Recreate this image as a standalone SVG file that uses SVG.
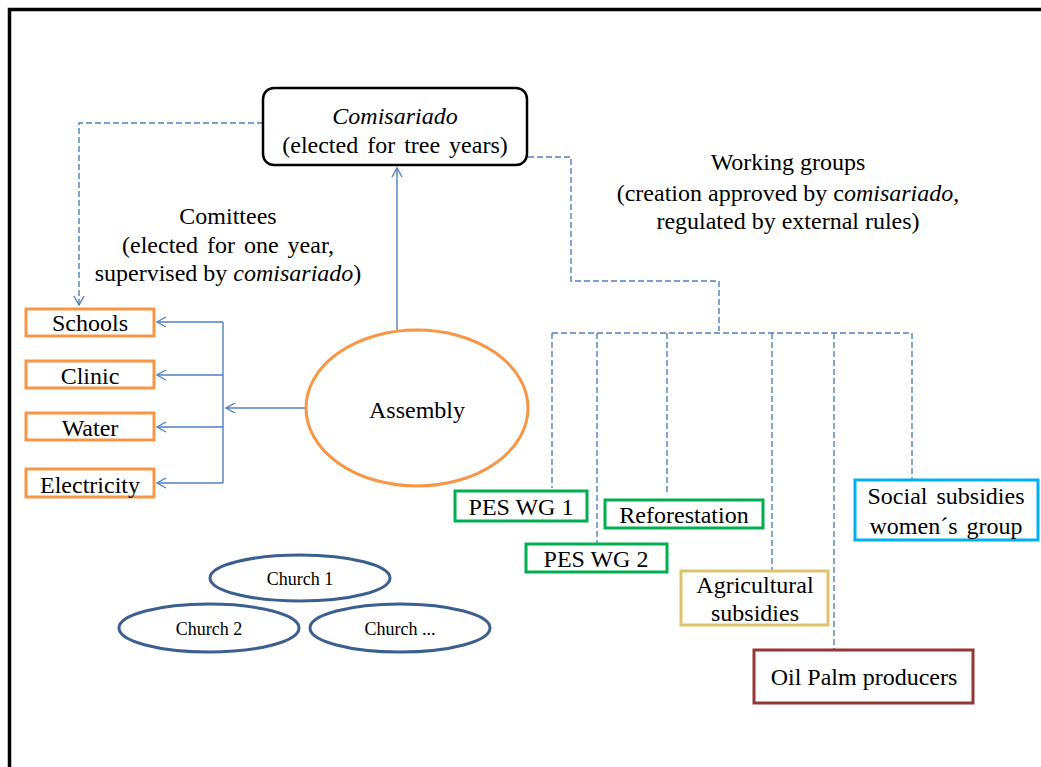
<svg xmlns="http://www.w3.org/2000/svg" width="1041" height="767" viewBox="0 0 1041 767" font-family="'Liberation Serif', 'Times New Roman', serif">
<style>
text{font-family:"Liberation Serif","Times New Roman",serif;fill:#000;text-anchor:middle}
.t{font-size:24px}
.s{font-size:18px}
.or{fill:#fff;stroke:#f79646;stroke-width:3}
.gr{fill:#fff;stroke:#00b050;stroke-width:3}
.ch{fill:#fff;stroke:#3b5f8f;stroke-width:3}
.c{fill:none;stroke:#4f81bd;stroke-width:1.4}
.d{fill:none;stroke:#4f81bd;stroke-width:1.4;stroke-dasharray:6 3}
</style>
<defs>
<marker id="arr" viewBox="0 0 11 12" refX="10" refY="6" markerWidth="11" markerHeight="12" markerUnits="userSpaceOnUse" orient="auto">
<path d="M1,1 L10,6 L1,11" fill="none" stroke="#4f81bd" stroke-width="1.4"/>
</marker>
</defs>
<rect width="1041" height="767" fill="#fff"/>
<path d="M9.5,767 V9.5 H1041" fill="none" stroke="#000" stroke-width="3.5"/>
<g id="connectors">
<path class="d" d="M263,123 H79 V305" marker-end="url(#arr)"/>
<path class="d" d="M528,157 H571 V281 H719 V331"/>
<path class="d" d="M552,333 H912"/>
<path class="d" d="M552,333 V488"/>
<path class="d" d="M597,333 V543"/>
<path class="d" d="M667,333 V494"/>
<path class="d" d="M772,333 V570"/>
<path class="d" d="M834,333 V649"/>
<path class="d" d="M912,333 V479"/>
<path class="c" d="M397,331 V168" marker-end="url(#arr)"/>
<path class="c" d="M306,408 H226" marker-end="url(#arr)"/>
<path class="c" d="M223,322 V483"/>
<path class="c" d="M223,322 H157" marker-end="url(#arr)"/>
<path class="c" d="M223,375 H157" marker-end="url(#arr)"/>
<path class="c" d="M223,427 H157" marker-end="url(#arr)"/>
<path class="c" d="M223,483 H157" marker-end="url(#arr)"/>
</g>
<g id="comisariado">
<rect x="263" y="88" width="264" height="77" rx="11" fill="#fff" stroke="#000" stroke-width="2.5"/>
<text class="t" x="395" y="124" font-style="italic">Comisariado</text>
<text class="t" x="395" y="153" word-spacing="3">(elected for tree years)</text>
</g>
<g id="comittees-label">
<text class="t" x="228" y="224">Comittees</text>
<text class="t" x="228" y="253" word-spacing="3">(elected for one year,</text>
<text class="t" x="228" y="281">supervised by <tspan font-style="italic">comisariado</tspan>)</text>
</g>
<g id="working-groups-label">
<text class="t" x="788" y="170">Working groups</text>
<text class="t" x="788" y="201">(creation approved by c<tspan font-style="italic">omisariado</tspan>,</text>
<text class="t" x="788" y="229">regulated by external rules)</text>
</g>
<g id="schools"><rect class="or" x="26" y="309" width="128" height="27"/><text class="t" x="90" y="331">Schools</text></g>
<g id="clinic"><rect class="or" x="26" y="361" width="128" height="27"/><text class="t" x="90" y="384">Clinic</text></g>
<g id="water"><rect class="or" x="26" y="413" width="128" height="27"/><text class="t" x="90" y="436">Water</text></g>
<g id="electricity"><rect class="or" x="26" y="469" width="128" height="28"/><text class="t" x="90" y="493">Electricity</text></g>
<g id="assembly"><ellipse class="or" cx="417" cy="408" rx="111" ry="78"/><text class="t" x="417" y="418">Assembly</text></g>
<g id="church1"><ellipse class="ch" cx="300" cy="578" rx="90" ry="23"/><text class="s" x="300" y="585">Church 1</text></g>
<g id="church2"><ellipse class="ch" cx="209" cy="628" rx="90" ry="24"/><text class="s" x="209" y="635">Church 2</text></g>
<g id="church3"><ellipse class="ch" cx="400" cy="628" rx="90" ry="24"/><text class="s" x="400" y="635">Church ...</text></g>
<g id="pes-wg1"><rect class="gr" x="455" y="491" width="132" height="30"/><text class="t" x="521" y="515">PES WG 1</text></g>
<g id="pes-wg2"><rect class="gr" x="526" y="544" width="141" height="28"/><text class="t" x="596" y="567">PES WG 2</text></g>
<g id="reforestation"><rect class="gr" x="605" y="500" width="158" height="28"/><text class="t" x="684" y="523">Reforestation</text></g>
<g id="agricultural"><rect x="681" y="571" width="147" height="54" fill="#fff" stroke="#dcc36c" stroke-width="3"/><text class="t" x="755" y="593">Agricultural</text><text class="t" x="755" y="621">subsidies</text></g>
<g id="oil-palm"><rect x="754" y="650" width="219" height="53" fill="#fff" stroke="#953735" stroke-width="3"/><text class="t" x="864" y="685">Oil Palm producers</text></g>
<g id="social"><rect x="855" y="480" width="183" height="60" fill="#fff" stroke="#00b0f0" stroke-width="3"/><text class="t" x="946" y="504" word-spacing="3">Social subsidies</text><text class="t" x="946" y="534" word-spacing="3">women´s group</text></g>
</svg>
